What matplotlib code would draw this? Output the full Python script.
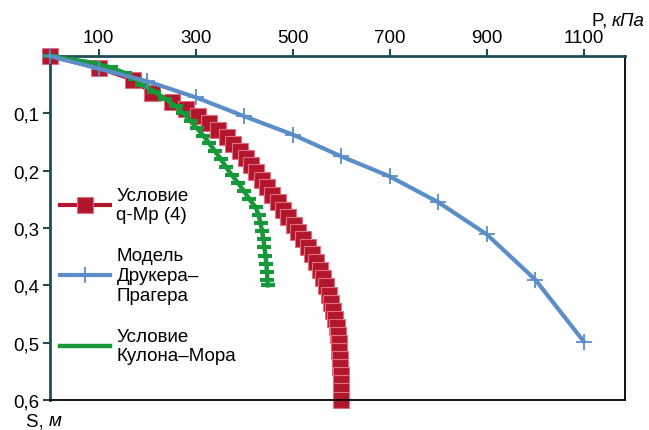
import matplotlib
matplotlib.use("Agg")
import matplotlib.pyplot as plt
from matplotlib.lines import Line2D

plt.rcParams['font.family'] = ['Liberation Sans', 'DejaVu Sans']

# P, kPa  vs  S, m
qmr_p = [0, 100, 171, 211, 252, 280, 305, 328, 347, 364, 378, 391, 403, 414,
         425, 436, 447, 458, 469, 480, 491, 502, 512, 522, 531, 540, 548, 556,
         563, 569, 575, 580, 584, 588, 591, 593, 595, 596.5, 597.5, 598.5,
         599, 599.5, 600, 600]
qmr_s = [0, 0.021, 0.041, 0.065, 0.081, 0.093, 0.105, 0.117, 0.129, 0.141,
         0.153, 0.165, 0.178, 0.19, 0.203, 0.216, 0.229, 0.242, 0.255, 0.268,
         0.281, 0.294, 0.307, 0.32, 0.333, 0.346, 0.36, 0.374, 0.388, 0.402,
         0.416, 0.43, 0.444, 0.458, 0.472, 0.486, 0.5, 0.514, 0.528, 0.542,
         0.556, 0.57, 0.585, 0.6]

dp_p = [0, 100, 200, 300, 400, 500, 600, 700, 800, 900, 1000, 1100]
dp_s = [0, 0.022, 0.044, 0.072, 0.105, 0.137, 0.175, 0.21, 0.255, 0.311, 0.39, 0.498]

km_p = [0, 35, 90, 125, 155, 175, 190, 215, 238, 260, 275, 290, 303, 316, 328,
        340, 352, 363, 375, 388, 400, 411, 424, 430, 434, 437, 440, 442, 444,
        446, 447, 448, 449]
km_s = [0, 0.005, 0.012, 0.02, 0.03, 0.04, 0.05, 0.062, 0.075, 0.088, 0.1,
        0.113, 0.126, 0.139, 0.152, 0.166, 0.18, 0.194, 0.208, 0.222, 0.236,
        0.25, 0.264, 0.278, 0.292, 0.306, 0.32, 0.334, 0.348, 0.362, 0.376,
        0.39, 0.40]

x_ticks = [100, 300, 500, 700, 900, 1100]
y_ticks = [0.1, 0.2, 0.3, 0.4, 0.5, 0.6]
y_labels = ['0,1', '0,2', '0,3', '0,4', '0,5', '0,6']

labels = ['Условие\nq-Мр (4)', 'Модель\nДрукера–\nПрагера', 'Условие\nКулона–Мора']

red = '#b2162c'
blue = '#5b8dc8'
green = '#17983a'
axcol = '#1f4d55'
fs = 13.5

fig = plt.figure(figsize=(6.49, 4.31), dpi=100)
ax = fig.add_axes([50 / 649, 1 - 401 / 431, 575 / 649, 344 / 431])

ax.plot(qmr_p, qmr_s, color=red, lw=3, marker='s', ms=12,
        mfc=red, mec='#e07080', mew=0.8, zorder=2, clip_on=False)
ax.plot(km_p, km_s, color=green, lw=3.2, marker='_', ms=10, mew=3,
        zorder=3, clip_on=False)
ax.plot(dp_p, dp_s, color=blue, lw=3, marker='+', ms=12, mew=1.3,
        zorder=4, clip_on=False)

ax.set_xlim(0, 1185)
ax.set_ylim(0.6, 0)
ax.xaxis.tick_top()
ax.set_xticks(x_ticks)
ax.set_yticks(y_ticks)
ax.set_yticklabels(y_labels)
ax.tick_params(axis='both', direction='out', length=5, width=1.5,
               color=axcol, labelsize=fs, pad=2.5)
ax.tick_params(axis='x', pad=2)

for side in ['top', 'left']:
    ax.spines[side].set_color(axcol)
    ax.spines[side].set_linewidth(2)
for side in ['right', 'bottom']:
    ax.spines[side].set_color('black')
    ax.spines[side].set_linewidth(1.3)

handles = [
    Line2D([], [], color=red, lw=3, marker='s', ms=12, mfc=red, mec='#e07080', mew=0.8),
    Line2D([], [], color=blue, lw=3, marker='+', ms=12, mew=1.3),
    Line2D([], [], color=green, lw=3.2),
]
ax.legend(handles, labels, loc='upper left', bbox_to_anchor=(0.017, 0.62),
          frameon=False, fontsize=fs, handlelength=2.7, handletextpad=0.32,
          labelspacing=1.28, borderpad=0, borderaxespad=0, numpoints=1)

fig.text(612 / 649, 1 - 21 / 431, 'P, ', ha='right', va='center', fontsize=fs)
fig.text(612 / 649, 1 - 21 / 431, 'кПа', ha='left', va='center', fontsize=fs,
         style='italic')
fig.text(49 / 649, 1 - 422 / 431, 'S, ', ha='right', va='center', fontsize=fs)
fig.text(49 / 649, 1 - 422 / 431, 'м', ha='left', va='center', fontsize=fs,
         style='italic')

fig.savefig('out.png', dpi=100)
